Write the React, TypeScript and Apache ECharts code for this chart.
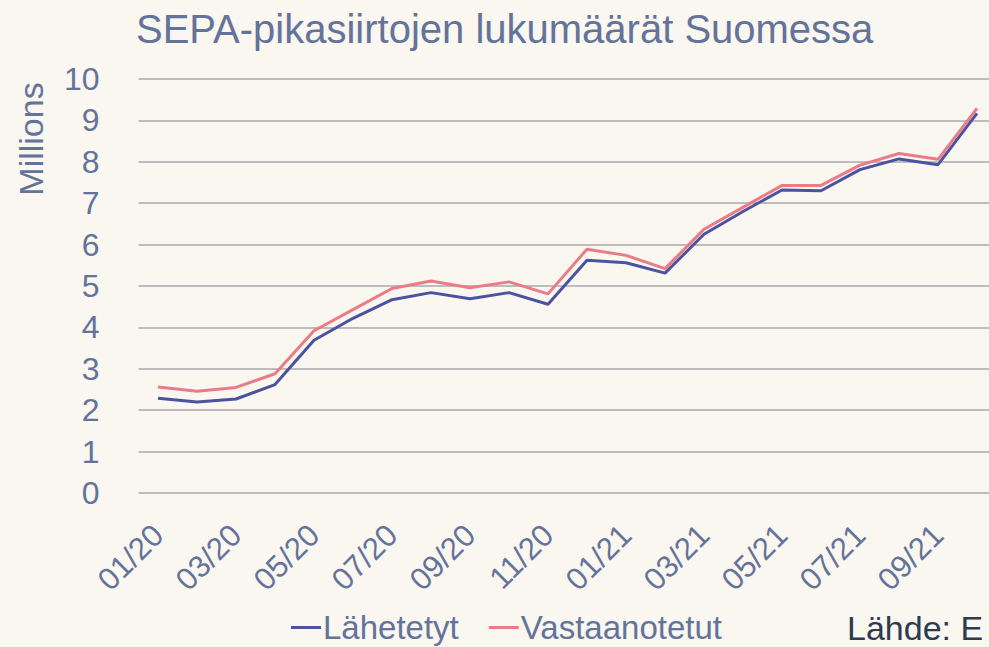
import React, { useEffect, useRef } from "react";
import * as echarts from "echarts";

const categories = [
  "01/20", "02/20", "03/20", "04/20", "05/20", "06/20", "07/20", "08/20", "09/20", "10/20", "11/20", "12/20",
  "01/21", "02/21", "03/21", "04/21", "05/21", "06/21", "07/21", "08/21", "09/21", "10/21",
];
const lahetetyt = [2.29, 2.2, 2.27, 2.62, 3.69, 4.22, 4.67, 4.84, 4.69, 4.84, 4.56, 5.62, 5.56, 5.31, 6.25, 6.8, 7.32, 7.3, 7.81, 8.07, 7.93, 9.17];
const vastaanotetut = [2.56, 2.46, 2.55, 2.88, 3.92, 4.43, 4.94, 5.12, 4.96, 5.1, 4.81, 5.89, 5.74, 5.42, 6.37, 6.9, 7.43, 7.43, 7.92, 8.2, 8.06, 9.29];
const yTicks = { min: 0, max: 10, interval: 1 };

const TEXT = "#63739a";
const FONT = "'Liberation Sans', Arial, sans-serif";

export default function App() {
  const ref = useRef<HTMLDivElement>(null);
  useEffect(() => {
    document.body.style.margin = "0";
    const chart = echarts.init(ref.current!, undefined, { renderer: "svg" });
    chart.setOption({
      animation: false,
      backgroundColor: "#faf6f0",
      textStyle: { fontFamily: FONT },
      title: {
        text: "SEPA-pikasiirtojen lukumäärät Suomessa",
        left: 131,
        top: 4,
        textStyle: { color: TEXT, fontSize: 40, fontWeight: "normal", fontFamily: FONT },
      },
      legend: {
        left: 286,
        top: 606,
        itemWidth: 30,
        itemHeight: 3,
        itemGap: 30,
        icon: "rect",
        textStyle: { color: TEXT, fontSize: 33, fontFamily: FONT, padding: [0, 0, 0, -3] },
        data: ["Lähetetyt", "Vastaanotetut"],
      },
      grid: {
        left: 138.5,
        top: 79,
        width: 858,
        height: 414,
        containLabel: false,
        outerBoundsMode: "none",
      },
      xAxis: {
        type: "category",
        data: categories,
        boundaryGap: true,
        axisLine: { show: false },
        axisTick: { show: false },
        axisLabel: {
          interval: 1,
          rotate: 45,
          margin: 37,
          color: TEXT,
          fontSize: 31,
          fontFamily: FONT,
        },
      },
      yAxis: {
        type: "value",
        min: yTicks.min,
        max: yTicks.max,
        interval: yTicks.interval,
        axisLine: { show: false },
        axisTick: { show: false },
        axisLabel: { margin: 39, color: TEXT, fontSize: 32, fontFamily: FONT },
        splitLine: { lineStyle: { color: "#bdbdbd", width: 2 } },
      },
      graphic: [
        {
          type: "text",
          x: 31,
          y: 139,
          rotation: Math.PI / 2,
          style: {
            text: "Millions",
            fill: TEXT,
            fontSize: 34,
            fontFamily: FONT,
            align: "center",
            verticalAlign: "middle",
          },
        },
        {
          type: "text",
          x: 847,
          y: 628,
          style: {
            text: "Lähde: E",
            fill: "#2e3a50",
            fontSize: 34,
            fontFamily: FONT,
            align: "left",
            verticalAlign: "middle",
          },
        },
      ],
      series: [
        {
          name: "Lähetetyt",
          type: "line",
          data: lahetetyt,
          symbol: "none",
          lineStyle: { color: "#4a53a0", width: 3 },
          itemStyle: { color: "#4a53a0" },
        },
        {
          name: "Vastaanotetut",
          type: "line",
          data: vastaanotetut,
          symbol: "none",
          lineStyle: { color: "#ea7c87", width: 3 },
          itemStyle: { color: "#ea7c87" },
        },
      ],
    });
    return () => chart.dispose();
  }, []);
  return <div ref={ref} style={{ position: "fixed", left: 0, top: 0, width: 989, height: 647 }} />;
}
